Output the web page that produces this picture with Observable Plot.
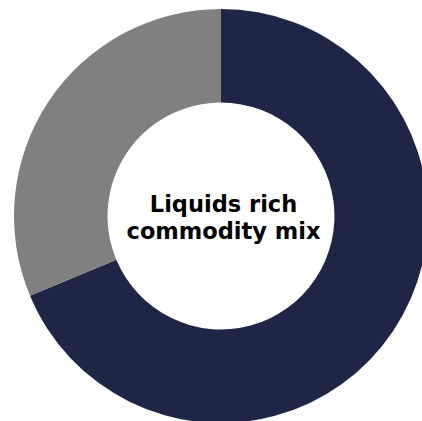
<!DOCTYPE html>
<html><head><meta charset="utf-8">
<script src="https://cdn.jsdelivr.net/npm/d3@7"></script>
<script src="https://cdn.jsdelivr.net/npm/@observablehq/plot@0.6"></script>
<style>body{margin:0;background:#fff}</style>
</head><body><div id="chart"></div>
<script>
const categories = ["Liquids", "Gas"];
const values = [68.7, 31.3];
const colors = ["#1e2545", "#808080"];
const centerLabel = ["Liquids rich", "commodity mix"];

const data = categories.map((c, i) => ({category: c, value: values[i]}));
const pie = d3.pie().value(d => d.value).sort(null);
const arcs = pie(data);

function donut(index, scales) {
  const cx = scales.x(0), cy = scales.y(0);
  const R = scales.x(1) - cx;
  const arc = d3.arc().innerRadius(R * 0.548).outerRadius(R);
  const g = d3.create("svg:g").attr("transform", `translate(${cx},${cy})`);
  g.selectAll("path").data(arcs).join("path")
    .attr("d", arc)
    .attr("fill", d => scales.color(d.data.category));
  return g.node();
}

const chart = Plot.plot({
  width: 422, height: 421, margin: 0,
  x: {domain: [-1, 1], range: [14, 428], axis: null},
  y: {domain: [-1, 1], range: [423, 9], axis: null},
  color: {domain: categories, range: colors},
  marks: [
    donut,
    Plot.text([centerLabel.join("\n")], {
      x: () => 0, y: () => 0, text: d => d,
      fontSize: 22.5, fontWeight: "bold", fill: "#000",
      fontFamily: "DejaVu Sans", lineHeight: 1.2, dx: 2
    })
  ]
});
chart.style.overflow = "hidden";
document.getElementById("chart").append(chart);
</script></body></html>
